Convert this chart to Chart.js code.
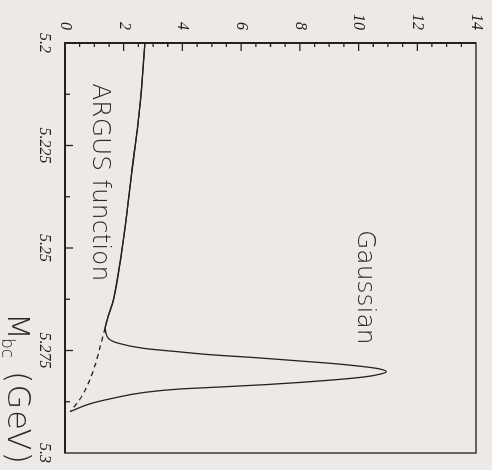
<!DOCTYPE html>
<html>
<head>
<meta charset="utf-8">
<script src="https://cdn.jsdelivr.net/npm/chart.js@4/dist/chart.umd.min.js"></script>
<style>
  html, body { margin: 0; padding: 0; width: 492px; height: 470px; overflow: hidden; background: #ece9e7; }
  /* the chart is laid out upright and turned a quarter turn clockwise */
  #turn { position: absolute; left: 0; top: 0; width: 470px; height: 492px;
          transform-origin: 0 0; transform: translate(492px, 0) rotate(90deg); }
  canvas { display: block; }
</style>
</head>
<body>
<div id="turn"><canvas id="c" width="470" height="492"></canvas></div>
<script>
// Fit curve: ARGUS background + Gaussian signal (GeV, events)
const totalMass  = [5.2000, 5.2155, 5.2318, 5.2480, 5.2627, 5.2665, 5.2695, 5.2720, 5.2732, 5.2745,
                    5.2753, 5.2760, 5.2768, 5.2781, 5.2790, 5.2795, 5.2802, 5.2808, 5.2814, 5.2822,
                    5.2833, 5.2840, 5.2844, 5.2852, 5.2867, 5.2881, 5.2899];
const totalYield = [2.72, 2.55, 2.27, 1.99, 1.65, 1.48, 1.37, 1.47, 1.80, 2.70,
                    3.85, 4.90, 6.60, 9.00, 10.25, 10.72, 10.95, 10.72, 10.25, 9.10,
                    6.90, 5.00, 3.90, 2.73, 1.60, 0.81, 0.18];

// ARGUS background alone
const argusMass  = [5.2000, 5.2155, 5.2318, 5.2480, 5.2627, 5.2665, 5.2695, 5.2740, 5.2785,
                    5.2820, 5.2846, 5.2875, 5.2899];
const argusYield = [2.72, 2.55, 2.27, 1.99, 1.65, 1.48, 1.37, 1.20, 1.03,
                    0.85, 0.69, 0.45, 0.18];

// the background is drawn dashed where the signal lifts the total above it
const signalOnset = 5.2695;

const massTicks  = [5.2, 5.225, 5.25, 5.275, 5.3];
const yieldTicks = [0, 2, 4, 6, 8, 10, 12, 14];
const massMinorStep  = 0.0125;
const yieldMinorStep = 0.5;

const curveLabels = [
  { text: 'Gaussian',       mass: 5.2456, value: 9.98 },
  { text: 'ARGUS function', mass: 5.2098, value: 0.96 }
];

const BG = '#ece9e7';
const INK = '#222';
const LABEL_FONT = '200 25px "DejaVu Sans"';
const TICK_FONT = { family: '"Liberation Serif"', style: 'italic', size: 16 };

const toPoints = (xs, ys) => xs.map((x, i) => ({ x: x, y: ys[i] }));

const framePlugin = {
  id: 'frame',
  beforeDraw(chart) {
    const c = chart.ctx;
    c.save();
    c.fillStyle = BG;
    c.fillRect(0, 0, chart.width, chart.height);
    c.restore();
  },
  afterDatasetsDraw(chart) {
    const c = chart.ctx, a = chart.chartArea;
    const xs = chart.scales.x, ys = chart.scales.y;
    c.save();
    // frame
    c.strokeStyle = '#3a3a3a';
    c.lineWidth = 1.5;
    c.strokeRect(a.left, a.top, a.right - a.left, a.bottom - a.top);
    c.strokeStyle = INK;
    c.lineWidth = 2;
    c.beginPath();
    c.moveTo(a.left, a.top); c.lineTo(a.left, a.bottom); c.lineTo(a.right, a.bottom);
    c.stroke();

    // inward ticks on the mass axis
    c.lineWidth = 1.3;
    c.beginPath();
    const nMass = Math.round((xs.max - xs.min) / massMinorStep);
    for (let i = 1; i < nMass; i++) {
      const v = xs.min + i * massMinorStep;
      const px = xs.getPixelForValue(v);
      const major = massTicks.some(t => Math.abs(t - v) < 1e-6);
      c.moveTo(px, a.bottom);
      c.lineTo(px, a.bottom - (major ? 8 : 5));
    }
    // inward ticks on the yield axis
    const nY = Math.round((ys.max - ys.min) / yieldMinorStep);
    for (let i = 1; i < nY; i++) {
      const v = ys.min + i * yieldMinorStep;
      const py = ys.getPixelForValue(v);
      const major = yieldTicks.some(t => Math.abs(t - v) < 1e-6);
      c.moveTo(a.left, py);
      c.lineTo(a.left + (major ? 8 : 4), py);
    }
    c.stroke();

    // curve names
    c.fillStyle = '#2a2a2a';
    c.font = LABEL_FONT;
    c.textAlign = 'left';
    c.textBaseline = 'alphabetic';
    curveLabels.forEach(l => {
      c.fillText(l.text, xs.getPixelForValue(l.mass), ys.getPixelForValue(l.value));
    });

    // axis title M_bc (GeV)
    const base = a.bottom + 57;
    const x0 = a.left + 270;
    c.font = '200 31px "DejaVu Sans"';
    c.fillText('M', x0, base);
    c.font = '200 17px "DejaVu Sans"';
    c.fillText('bc', x0 + 25, base + 6);
    c.font = '200 32px "DejaVu Sans"';
    c.letterSpacing = '1px';
    c.fillText('(GeV)', x0 + 58, base);
    c.restore();
  }
};

new Chart(document.getElementById('c'), {
  type: 'scatter',
  data: {
    datasets: [
      {
        label: 'ARGUS function',
        data: toPoints(argusMass, argusYield),
        showLine: true,
        borderColor: INK,
        borderWidth: 1.3,
        pointRadius: 0,
        tension: 0.3,
        segment: {
          borderDash: ctx => (ctx.p0.parsed.x >= signalOnset - 1e-6 ? [5, 4] : undefined)
        }
      },
      {
        label: 'ARGUS + Gaussian',
        data: toPoints(totalMass, totalYield),
        showLine: true,
        borderColor: INK,
        borderWidth: 1.3,
        pointRadius: 0,
        cubicInterpolationMode: 'monotone'
      }
    ]
  },
  options: {
    responsive: false,
    animation: false,
    devicePixelRatio: 1,
    layout: { padding: { top: 16, right: 17, left: 0, bottom: 0 } },
    plugins: { legend: { display: false }, tooltip: { enabled: false } },
    scales: {
      x: {
        type: 'linear',
        position: 'bottom',
        min: 5.2,
        max: 5.3,
        afterBuildTicks: s => { s.ticks = massTicks.map(v => ({ value: v })); },
        afterFit: s => { s.height = 65; s.paddingLeft = 0; s.paddingRight = 0; },
        grid: { display: false, drawTicks: false },
        border: { display: false },
        ticks: {
          padding: 11,
          autoSkip: false,
          maxRotation: 0,
          minRotation: 0,
          color: '#222',
          font: TICK_FONT,
          callback: v => String(Number(v.toFixed(4)))
        }
      },
      y: {
        type: 'linear',
        position: 'left',
        min: 0,
        max: 14,
        afterBuildTicks: s => { s.ticks = yieldTicks.map(v => ({ value: v })); },
        afterFit: s => { s.width = 43; s.paddingTop = 0; s.paddingBottom = 0; },
        grid: { display: false, drawTicks: false },
        border: { display: false },
        ticks: {
          padding: 13,
          autoSkip: false,
          color: '#222',
          font: TICK_FONT,
          callback: v => String(v)
        }
      }
    }
  },
  plugins: [framePlugin]
});
</script>
</body>
</html>
